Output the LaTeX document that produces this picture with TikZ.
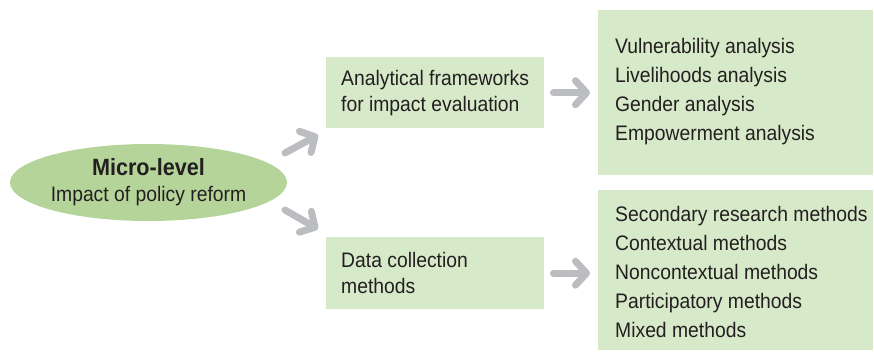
\documentclass[tikz,border=0pt]{standalone}
\usepackage{fontspec}
\setmainfont{Liberation Sans}[FakeStretch=0.92]
\usepackage{tikz}
\usetikzlibrary{arrows.meta,positioning,shapes.geometric}

\definecolor{ovalgreen}{HTML}{B5D49A}
\definecolor{boxgreen}{HTML}{D6E9C8}
\definecolor{arrowgray}{HTML}{BCBDC0}
\definecolor{inkgray}{HTML}{231F20}

\begin{document}
\begin{tikzpicture}[x=1pt,y=-1pt]
			\tikzstyle{every node}+=[text=inkgray, inner sep=0pt]
			\tikzstyle{greenbox}=[fill=boxgreen, draw=none, rectangle, anchor=north west]
			\tikzstyle{boxtext}=[align=left, font=\fontsize{21}{26}\selectfont]
			\tikzstyle{listtext}=[align=left, font=\fontsize{21}{29}\selectfont]
			\tikzstyle{bigarrow}=[draw=arrowgray, line width=7pt, line cap=round, -{Straight Barb[length=11pt, width=24pt, round]}]
			\useasboundingbox (0,0) rectangle (874,351);
			% left oval
			\node [ellipse, fill=ovalgreen, minimum width=277pt, minimum height=77pt] (micro) at (148.5,182.5) {};
			\node [align=center, font=\fontsize{21}{26}\selectfont] (microText) at (micro.center)
				{{\fontsize{23.5}{26}\selectfont\textbf{Micro-level}}\\Impact of policy reform};
			% middle boxes
			\node [greenbox, minimum width=218pt, minimum height=71pt] (frame) at (326,57) {};
			\node [boxtext, right=15pt of frame.west, anchor=west] (frameText) {Analytical frameworks\\for impact evaluation};
			\node [greenbox, minimum width=218pt, minimum height=72pt] (data) at (326,237) {};
			\node [boxtext, right=15pt of data.west, anchor=west] (dataText) {Data collection\\methods};
			% right boxes
			\node [greenbox, minimum width=275pt, minimum height=165pt] (frameList) at (598,10) {};
			\node [listtext, right=17pt of frameList.west, anchor=west, yshift=1pt] (frameListText)
				{Vulnerability analysis\\Livelihoods analysis\\Gender analysis\\Empowerment analysis};
			\node [greenbox, minimum width=275pt, minimum height=160pt] (dataList) at (598,190) {};
			\node [listtext, right=17pt of dataList.west, anchor=west, yshift=-2pt] (dataListText)
				{Secondary research methods\\Contextual methods\\Noncontextual methods\\Participatory methods\\Mixed methods};
			% arrows
			\coordinate (upStart) at (285,153);
			\coordinate (upEnd) at (318,135);
			\coordinate (downStart) at (285,210);
			\coordinate (downEnd) at (318,229);
			\draw [bigarrow] (upStart) -- (upEnd);
			\draw [bigarrow] (downStart) -- (downEnd);
			\draw [bigarrow, shorten <=9pt, shorten >=8pt] (frame.east) -- (frameList.west |- frame.east);
			\draw [bigarrow, shorten <=9pt, shorten >=8pt] (data.east) -- (dataList.west |- data.east);
\end{tikzpicture}
\end{document}
